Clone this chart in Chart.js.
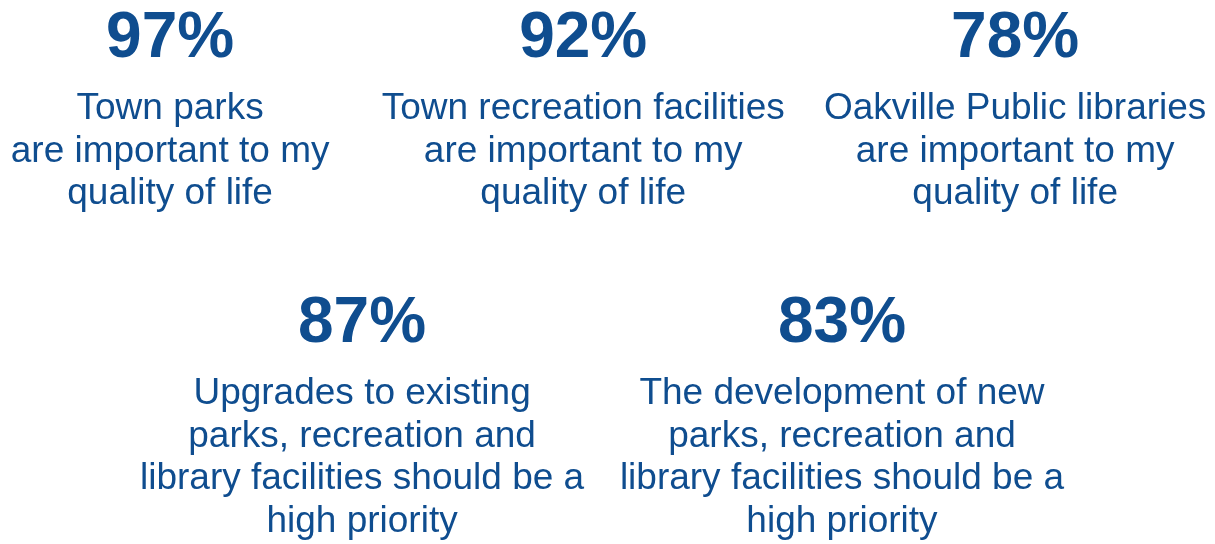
<!DOCTYPE html>
<html>
<head>
<meta charset="utf-8">
<script src="https://cdn.jsdelivr.net/npm/chart.js@4/dist/chart.umd.min.js"></script>
<style>
  html, body { margin: 0; padding: 0; background: #fff; }
  #wrap { width: 1215px; height: 544px; position: relative; }
</style>
</head>
<body>
<div id="wrap"><canvas id="chart"></canvas></div>
<script>
// data
const percents = [97, 92, 78, 87, 83];
const statements = [
  ["Town parks", "are important to my", "quality of life"],
  ["Town recreation facilities", "are important to my", "quality of life"],
  ["Oakville Public libraries", "are important to my", "quality of life"],
  ["Upgrades to existing", "parks, recreation and", "library facilities should be a", "high priority"],
  ["The development of new", "parks, recreation and", "library facilities should be a", "high priority"]
];

// layout: where each statement sits (x in % of width, y in rows)
const slotX = [14.0, 48.0, 83.55, 29.8, 69.3];
const slotRow = [0, 0, 0, 1, 1];

const BLUE = "#0F4D8F";
const FONT = "'Liberation Sans', Arial, sans-serif";

// draws the big % and the statement under each (invisible) point
const statLabels = {
  id: "statLabels",
  afterDatasetsDraw(chart) {
    const ctx = chart.ctx;
    const meta = chart.getDatasetMeta(0);
    ctx.save();
    ctx.fillStyle = BLUE;
    ctx.textAlign = "center";
    ctx.textBaseline = "alphabetic";
    meta.data.forEach((pt, i) => {
      ctx.font = "bold 64px " + FONT;
      ctx.fillText(percents[i] + "%", pt.x, pt.y);
      ctx.font = "37px " + FONT;
      statements[i].forEach((line, j) => {
        ctx.fillText(line, pt.x, pt.y + 62 + j * 42.5);
      });
    });
    ctx.restore();
  }
};

new Chart(document.getElementById("chart"), {
  type: "scatter",
  data: {
    datasets: [{
      data: percents.map((p, i) => ({ x: slotX[i], y: slotRow[i] })),
      pointRadius: 0,
      pointHoverRadius: 0
    }]
  },
  options: {
    responsive: true,
    maintainAspectRatio: false,
    animation: false,
    layout: { padding: 0 },
    plugins: { legend: { display: false }, tooltip: { enabled: false }, title: { display: false } },
    scales: {
      x: { type: "linear", display: false, min: 0, max: 100 },
      y: { type: "linear", display: false, reverse: true, min: -0.2, max: -0.2 + 544 / 285 }
    }
  },
  plugins: [statLabels]
});
</script>
</body>
</html>
